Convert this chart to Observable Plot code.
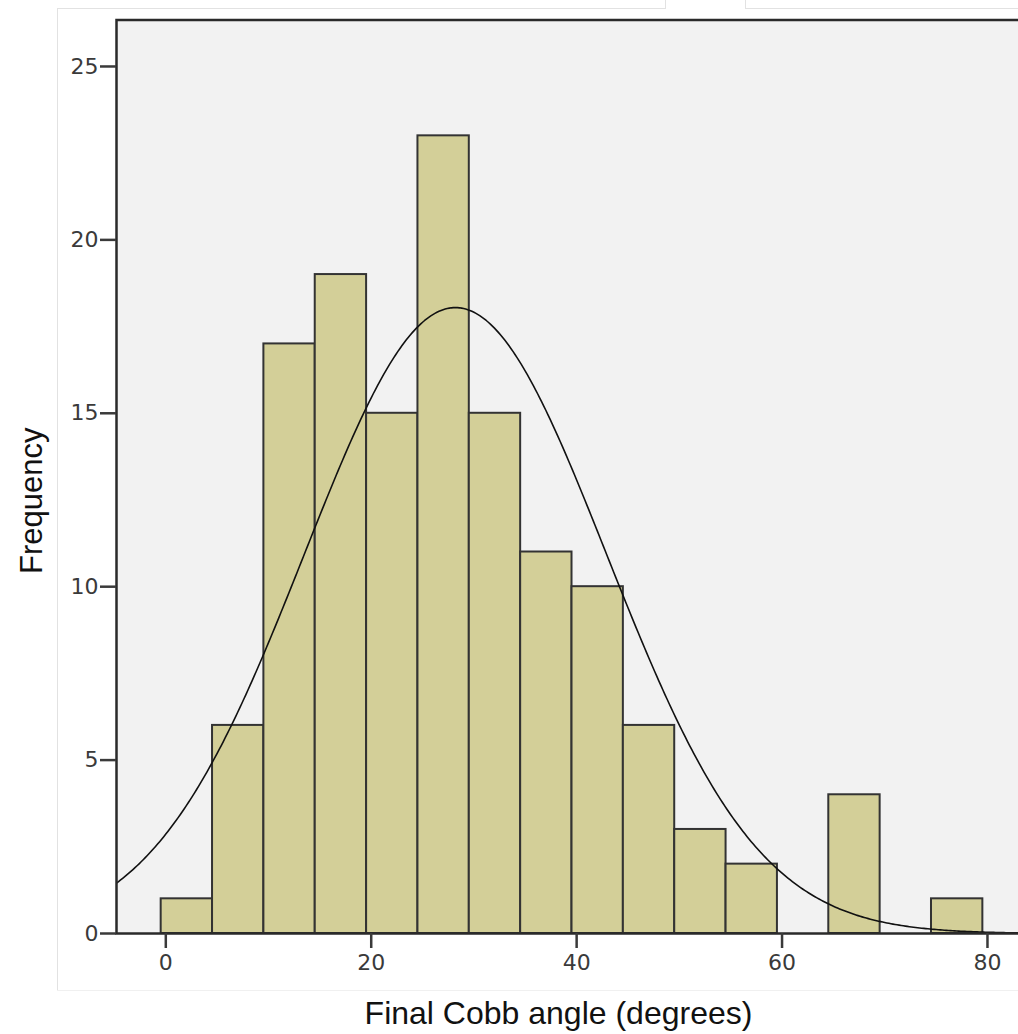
<!DOCTYPE html>
<html>
<head>
<meta charset="utf-8">
<script src="https://cdn.jsdelivr.net/npm/d3@7"></script>
<script src="https://cdn.jsdelivr.net/npm/@observablehq/plot@0.6"></script>
<style>
  html, body { margin: 0; padding: 0; background: white; overflow: hidden; }
  #wrap { position: relative; width: 1018px; height: 1034px; overflow: hidden; }
  #chart svg { max-width: none !important; display: block; }
  .deco { position: absolute; background: #e2e2e2; }
</style>
</head>
<body>
<div id="wrap">
  <div id="chart"></div>
  <div class="deco" style="left:57px;top:8px;width:608px;height:1px;"></div>
  <div class="deco" style="left:665px;top:0px;width:1px;height:9px;"></div>
  <div class="deco" style="left:745px;top:8px;width:273px;height:1px;"></div>
  <div class="deco" style="left:745px;top:0px;width:1px;height:9px;"></div>
  <div class="deco" style="left:57px;top:8px;width:1px;height:982px;"></div>
  <div class="deco" style="left:57px;top:990px;width:961px;height:1px;background:#f0f0f0;"></div>
</div>
<script>
// Histogram data (bin lower edges, width 5)
const binStart = [-0.45, 4.55, 9.55, 14.55, 19.55, 24.55, 29.55, 34.55, 39.55, 44.55, 49.55, 54.55, 59.55, 64.55, 69.55, 74.55];
const frequency = [1, 6, 17, 19, 15, 23, 15, 11, 10, 6, 3, 2, 0, 4, 0, 1];
const binWidth = 5;
// Fitted normal curve parameters
const fitMean = 28.2;
const fitSD = 14.7;
const xTicks = [0, 20, 40, 60, 80];
const yTicks = [0, 5, 10, 15, 20, 25];

const n = d3.sum(frequency);
const bins = binStart.map((s, i) => ({x1: s, x2: s + binWidth, y: frequency[i]})).filter(d => d.y > 0);
const xDomain = [-4.8, 83.8];
const curve = d3.range(xDomain[0], xDomain[1] + 0.01, 0.2).map(x => ({
  x,
  y: n * binWidth / (fitSD * Math.sqrt(2 * Math.PI)) * Math.exp(-0.5 * ((x - fitMean) / fitSD) ** 2)
}));

const chart = Plot.plot({
  width: 1030,
  height: 1034,
  marginLeft: 116,
  marginTop: 19.5,
  marginBottom: 101,
  marginRight: 4,
  style: {background: "white", fontFamily: "DejaVu Sans", maxWidth: "none"},
  x: {domain: xDomain},
  y: {domain: [0, 26.34]},
  marks: [
    Plot.frame({fill: "#f2f2f2"}),
    Plot.rectY(bins, {x1: "x1", x2: "x2", y: "y", fill: "#d3cf98", stroke: "#333", strokeWidth: 2}),
    Plot.line(curve, {x: "x", y: "y", stroke: "#111", strokeWidth: 1.6, clip: true}),
    Plot.frame({stroke: "#2a2a2a", strokeWidth: 2.5}),
    Plot.axisX({ticks: xTicks, tickSize: 15, tickPadding: 6, fontSize: 22, color: "#3a3a3a", strokeWidth: 2.5, label: null}),
    Plot.axisY({ticks: yTicks, tickSize: 16, tickPadding: 2, fontSize: 22, color: "#3a3a3a", strokeWidth: 2.5, label: null}),
    Plot.text(["Frequency"], {frameAnchor: "left", dx: -84, dy: 24, rotate: -90, textAnchor: "middle", lineAnchor: "middle", fontSize: 31, fontFamily: "Liberation Sans", fill: "#111"}),
    Plot.text(["Final Cobb angle (degrees)"], {frameAnchor: "bottom", dx: -13, dy: 80, textAnchor: "middle", lineAnchor: "middle", fontSize: 32, fontFamily: "Liberation Sans", fill: "#111"})
  ]
});
chart.style.maxWidth = "none";
document.getElementById("chart").appendChild(chart);
</script>
</body>
</html>
